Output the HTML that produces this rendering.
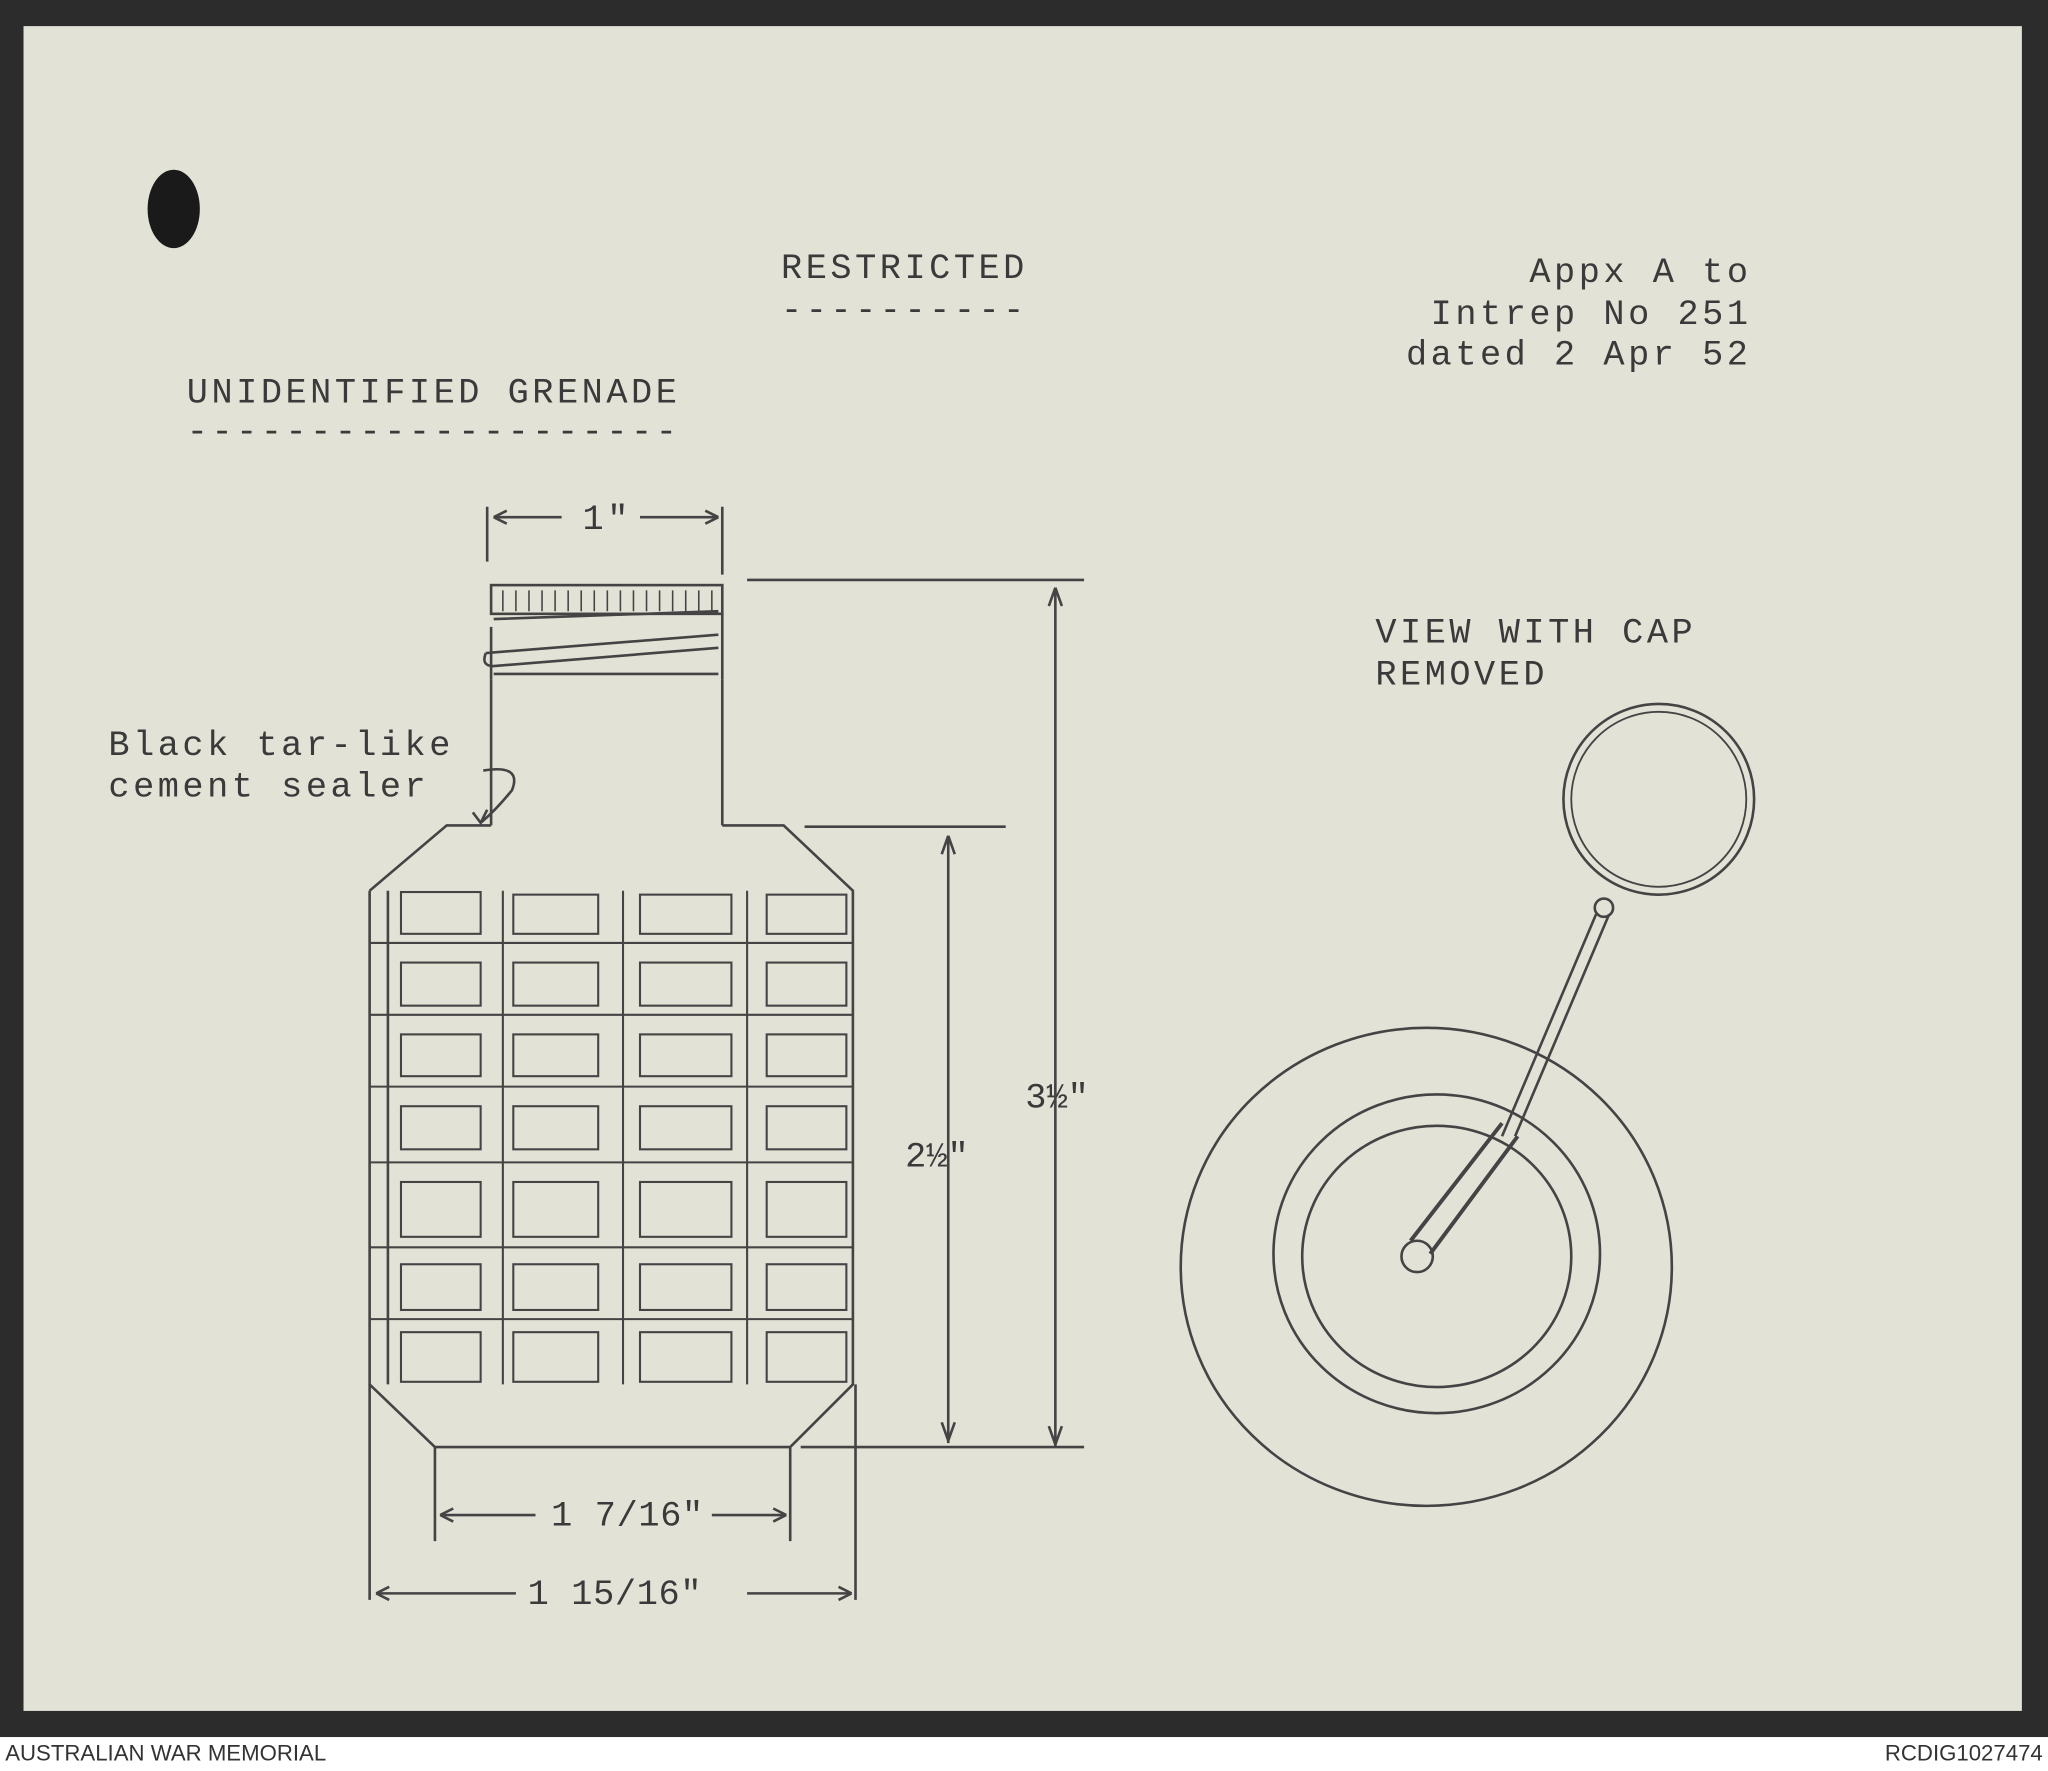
<!DOCTYPE html>
<html><head><meta charset="utf-8"><style>
html,body{margin:0;padding:0;background:#fff;}
svg{display:block}
text{font-family:"Liberation Mono",monospace;fill:#3a3a3a;}
</style></head><body>
<svg width="2048" height="1771" viewBox="0 0 1568 1356" preserveAspectRatio="none" xmlns="http://www.w3.org/2000/svg">
<rect x="0" y="0" width="1568" height="1356" fill="#fff"/>
<rect x="0" y="0" width="1568" height="1330" fill="#2b2c2b"/>
<rect x="18" y="20" width="1530" height="1290" fill="#e3e2d7"/>
<text x="4" y="1348" style="font-family:'Liberation Sans',sans-serif;font-size:17px;fill:#333">AUSTRALIAN WAR MEMORIAL</text>
<text x="1564" y="1348" text-anchor="end" style="font-family:'Liberation Sans',sans-serif;font-size:17px;fill:#333">RCDIG1027474</text>
<ellipse cx="133" cy="160" rx="20" ry="30" fill="#1a1a1a"/>
<g font-size="27" letter-spacing="2.7">
<text x="598" y="213">RESTRICTED</text>
<text x="598" y="245">----------</text>
<text x="1341" y="216" text-anchor="end">Appx A to</text>
<text x="1341" y="248" text-anchor="end">Intrep No 251</text>
<text x="1341" y="279" text-anchor="end">dated 2 Apr 52</text>
<text x="143" y="308">UNIDENTIFIED GRENADE</text>
<text x="143" y="338">--------------------</text>
<text x="83" y="578">Black tar-like</text>
<text x="83" y="610">cement sealer</text>
<text x="1053" y="492">VIEW WITH CAP</text>
<text x="1053" y="524">REMOVED</text>
<text x="446" y="405">1"</text>
<text x="785" y="848" letter-spacing="0">3½"</text>
<text x="693" y="893" letter-spacing="0">2½"</text>
<text x="422" y="1168" letter-spacing="0.5">1 7/16"</text>
<text x="404" y="1228" letter-spacing="0.5">1 15/16"</text>
</g>
<g stroke="#444" stroke-width="2" fill="none">
<path d="M373 388V430M553 388V440M378 396H430M490 396H550"/>
<path d="M378 396l10-5M378 396l10 5M550 396l-10-5M550 396l-10 5"/>
<rect x="376" y="448" width="177" height="22"/>
<path d="M385 452V468M395 452V468M405 452V468M415 452V468M425 452V468M435 452V468M445 452V468M455 452V468M465 452V468M475 452V468M485 452V468M495 452V468M505 452V468M515 452V468M525 452V468M535 452V468M545 452V468" stroke-width="1.2"/>
<path d="M378 474L550 468M372 500L550 486M372 500Q368 510 378 510L550 496M378 516H550M553 470V520M376 480V520"/>
<path d="M376 520V632M553 520V632"/>
<path d="M283 682L342 632H376M553 632H600L653 682V1060L605 1108H333L283 1060V682"/>
<path d="M297 682V1060"/>
<path d="M385 682V1060M477 682V1060M572 682V1060M283 722H653M283 777H653M283 832H653M283 890H653M283 955H653M283 1010H653" stroke-width="1.6"/>
<g stroke-width="1.6">
<rect x="307" y="683" width="61" height="32"/><rect x="393" y="685" width="65" height="30"/><rect x="490" y="685" width="70" height="30"/><rect x="587" y="685" width="61" height="30"/>
<rect x="307" y="737" width="61" height="33"/><rect x="393" y="737" width="65" height="33"/><rect x="490" y="737" width="70" height="33"/><rect x="587" y="737" width="61" height="33"/>
<rect x="307" y="792" width="61" height="32"/><rect x="393" y="792" width="65" height="32"/><rect x="490" y="792" width="70" height="32"/><rect x="587" y="792" width="61" height="32"/>
<rect x="307" y="847" width="61" height="33"/><rect x="393" y="847" width="65" height="33"/><rect x="490" y="847" width="70" height="33"/><rect x="587" y="847" width="61" height="33"/>
<rect x="307" y="905" width="61" height="42"/><rect x="393" y="905" width="65" height="42"/><rect x="490" y="905" width="70" height="42"/><rect x="587" y="905" width="61" height="42"/>
<rect x="307" y="968" width="61" height="35"/><rect x="393" y="968" width="65" height="35"/><rect x="490" y="968" width="70" height="35"/><rect x="587" y="968" width="61" height="35"/>
<rect x="307" y="1020" width="61" height="38"/><rect x="393" y="1020" width="65" height="38"/><rect x="490" y="1020" width="70" height="38"/><rect x="587" y="1020" width="61" height="38"/>
</g>
<path d="M370 590Q400 585 392 605Q380 620 368 630M362 622L368 630L373 620"/>
<path d="M572 444H830M808 450V1108M616 633H770M726 640V1105M613 1108H830"/>
<path d="M808 450l-5 14M808 450l5 14M808 1106l-5-14M808 1106l5-14M726 640l-5 14M726 640l5 14M726 1103l-5-14M726 1103l5-14"/>
<path d="M333 1108V1180M605 1108V1180M283 1060V1225M655 1060V1225"/>
<path d="M337 1160H410M545 1160H602M288 1220H395M572 1220H652"/>
<path d="M337 1160l10-5M337 1160l10 5M602 1160l-10-5M602 1160l-10 5M288 1220l10-5M288 1220l10 5M652 1220l-10-5M652 1220l-10 5"/>
<circle cx="1270" cy="612" r="73"/>
<circle cx="1270" cy="612" r="67" stroke-width="1.4"/>
<circle cx="1228" cy="695" r="7"/>
<path d="M1222 700L1150 870M1232 700L1160 870"/>
<path d="M1150 860L1080 950M1162 870L1095 960" stroke-width="3"/>
<circle cx="1085" cy="962" r="12"/>
<ellipse cx="1092" cy="970" rx="188" ry="183"/>
<ellipse cx="1100" cy="960" rx="125" ry="122"/>
<ellipse cx="1100" cy="962" rx="103" ry="100"/>
</g>
</svg>
</body></html>
